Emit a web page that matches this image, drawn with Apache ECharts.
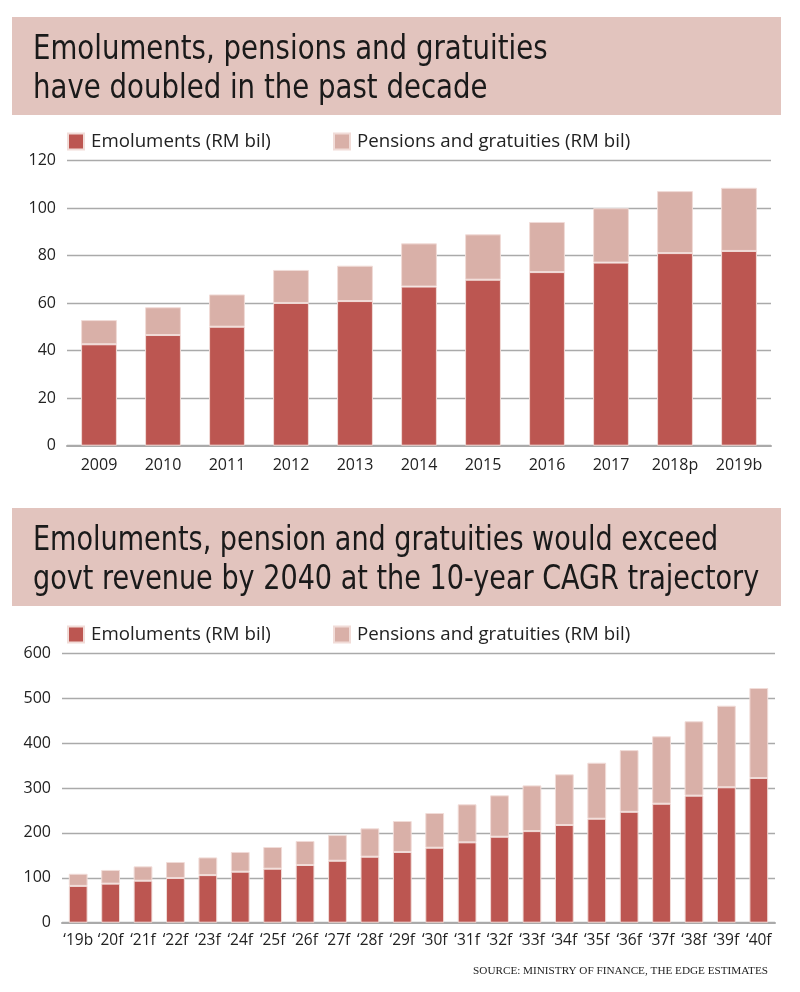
<!DOCTYPE html>
<html><head><meta charset="utf-8">
<script src="https://cdn.jsdelivr.net/npm/echarts@6/dist/echarts.min.js"></script>
<style>html,body{margin:0;padding:0;background:#fff}#c{width:800px;height:992px}</style>
</head><body><div id="c"></div>
<script>
// Top chart data
const yearsTop = ['2009','2010','2011','2012','2013','2014','2015','2016','2017','2018p','2019b'];
const emolTop = [42.7, 46.6, 50.1, 60.1, 60.9, 67.0, 69.9, 73.1, 77.1, 81.1, 82.0];
const pensTop = [10.2, 11.7, 13.6, 13.9, 14.9, 18.2, 19.1, 21.1, 22.9, 26.1, 26.6];
// Bottom chart data
const yearsBot = ['\u201819b','\u201820f','\u201821f','\u201822f','\u201823f','\u201824f','\u201825f','\u201826f','\u201827f','\u201828f','\u201829f','\u201830f','\u201831f','\u201832f','\u201833f','\u201834f','\u201835f','\u201836f','\u201837f','\u201838f','\u201839f','\u201840f'];
const emolBot = [82, 87, 93.5, 99.6, 106, 113.6, 120.3, 128.5, 138, 147, 157.5, 167, 179, 191.5, 204, 217.6, 231.6, 247, 265, 283, 301.6, 322.3];
const pensBot = [27, 30.5, 32, 35.6, 39.4, 43.9, 48.3, 53.5, 57.2, 63.2, 69, 77.3, 84.7, 92.2, 101.8, 112.9, 124.7, 137.4, 150.1, 165.6, 181.7, 200.4];

const title1 = ['Emoluments, pensions and gratuities', 'have doubled in the past decade'];
const title2 = ['Emoluments, pension and gratuities would exceed', 'govt revenue by 2040 at the 10-year CAGR trajectory'];
const source = 'SOURCE: MINISTRY OF FINANCE, THE EDGE ESTIMATES';

const C_EMOL = '#bc5651', C_PENS = '#d9b0a8', C_BOX = '#e2c4be';
const N1 = 'Emoluments (RM bil)', N2 = 'Pensions and gratuities (RM bil)';
const FONT = "'Open Sans', 'Noto Sans', sans-serif";
const TFONT = "'DejaVu Sans Condensed', sans-serif";

const chart = echarts.init(document.getElementById('c'), null, {renderer:'canvas'});

function titleLine(y, text, sx){
  return {type:'text', x:33, y:y, scaleX:sx, scaleY:1,
    style:{x:0, y:0, text:text, font:'33px '+TFONT, fill:'#1a1a1a', textVerticalAlign:'middle'}};
}
function titleBox(y, lines, sx){
  return {
    type:'group', children:[
      {type:'rect', shape:{x:12, y:y, width:769, height:98}, style:{fill:C_BOX}},
      titleLine(y+33, lines[0], sx),
      titleLine(y+72, lines[1], sx)
    ]
  };
}

const axisLabel = {color:'#222', fontSize:16, fontFamily:FONT};
const legendBase = {icon:'rect', itemWidth:16, itemHeight:16, selectedMode:false, padding:0,
  textStyle:{color:'#222', fontSize:18.7, fontFamily:FONT, padding:[0,0,0,2]}};

function barSeries(name, data, color, xi){
  return {type:'bar', name:name, stack:'s'+xi, xAxisIndex:xi, yAxisIndex:xi, data:data,
    barWidth: xi===0 ? '56%' : '58%',
    itemStyle:{color:color, borderColor:'#f1dcd8', borderWidth:1}, silent:true};
}

chart.setOption({
  animation:false,
  textStyle:{fontFamily:FONT},
  graphic:[
    titleBox(17, title1, 0.93),
    titleBox(508, title2, 0.912),
    {type:'text', right:32, top:966, style:{text:source, font:"11.2px 'Liberation Serif', 'DejaVu Serif', serif", fill:'#222'}}
  ],
  legend:[
    Object.assign({left:67, top:132, data:[N1]}, legendBase),
    Object.assign({left:333, top:132, data:[N2]}, legendBase),
    Object.assign({left:67, top:625, data:[N1]}, legendBase),
    Object.assign({left:333, top:625, data:[N2]}, legendBase)
  ],
  grid:[
    {left:67, right:29, top:160.7, bottom:546.3},
    {left:62, right:25, top:653.3, bottom:69.3}
  ],
  xAxis:[
    {type:'category', gridIndex:0, data:yearsTop, axisTick:{show:false},
     axisLine:{lineStyle:{color:'#aaa', width:2}}, axisLabel:Object.assign({margin:12}, axisLabel)},
    {type:'category', gridIndex:1, data:yearsBot, axisTick:{show:false},
     axisLine:{lineStyle:{color:'#aaa', width:2}}, axisLabel:Object.assign({margin:10, interval:0}, axisLabel, {fontSize:15.5})}
  ],
  yAxis:[
    {type:'value', gridIndex:0, min:0, max:120, interval:20, axisLine:{show:false}, axisTick:{show:false},
     splitLine:{lineStyle:{color:'#aaa', width:1.3}}, axisLabel:Object.assign({margin:11}, axisLabel)},
    {type:'value', gridIndex:1, min:0, max:600, interval:100, axisLine:{show:false}, axisTick:{show:false},
     splitLine:{lineStyle:{color:'#aaa', width:1.3}}, axisLabel:Object.assign({margin:11}, axisLabel)}
  ],
  series:[
    barSeries(N1, emolTop, C_EMOL, 0),
    barSeries(N2, pensTop, C_PENS, 0),
    barSeries(N1, emolBot, C_EMOL, 1),
    barSeries(N2, pensBot, C_PENS, 1)
  ]
});
</script></body></html>
